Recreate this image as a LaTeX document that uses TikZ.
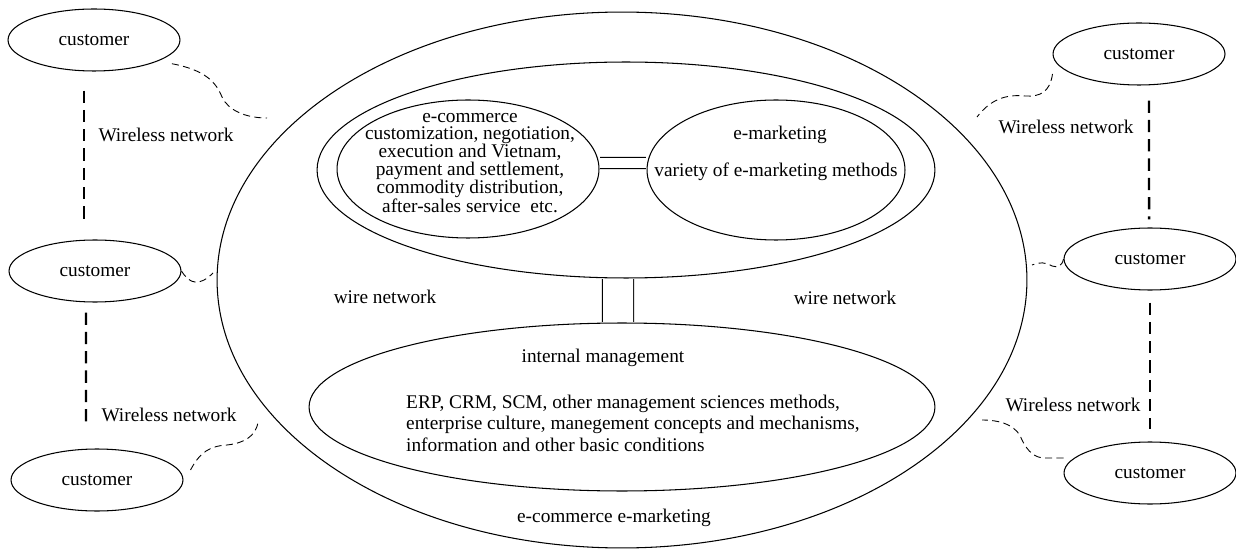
\documentclass[tikz,border=0pt]{standalone}
\usepackage{fontspec}
\setmainfont{Liberation Serif}
\usetikzlibrary{shapes.geometric}

\begin{document}
\begin{tikzpicture}[x=0.02cm, y=-0.02cm, font=\fontsize{11}{12}\selectfont,
            oval/.style={shape=ellipse, draw, inner sep=0pt, line width=0.6pt},
            cust/.style={oval, minimum width=3.44cm, minimum height=1.24cm},
            wless/.style={line width=1.4pt, dash pattern=on 7pt off 4pt},
            wavy/.style={line width=0.5pt, dash pattern=on 4pt off 2.5pt},
            link/.style={draw, line width=0.6pt, double, double distance=#1, shorten <=0.4pt, shorten >=0.4pt}]
        \useasboundingbox (0,0) rectangle (1236,550);

        % the ellipses in the middle
        \node[oval, minimum width=16.2cm, minimum height=10.72cm] (whole) at (622,280) {};
        \node[oval, minimum width=12.36cm, minimum height=4.32cm] (front) at (626,170) {};
        \node[oval, minimum width=5.24cm, minimum height=2.76cm] (ecom) at (468,169) {};
        \node[oval, minimum width=5.16cm, minimum height=2.8cm] (emkt) at (776,170) {};
        \node[oval, minimum width=12.52cm, minimum height=3.36cm] (inner) at (622,407) {};

        \draw[link=0.2cm] ([yshift=0.12cm]ecom.east) -- ([yshift=0.14cm]emkt.west);
        \draw[link=0.6cm] ([xshift=-0.16cm]front.south) -- ([xshift=-0.08cm]inner.north);

        \node[align=center, font=\fontsize{11}{10.1}\selectfont] (ecomtxt) at (470,163)
            {e-commerce\\customization, negotiation,\\execution and Vietnam,\\payment and settlement,\\commodity distribution,\\after-sales service\ \ etc.};
        \node (emkt1) at (780,135) {e-marketing};
        \node (emkt2) at (776,172) {variety of e-marketing methods};
        \node (wire1) at (385,297) {wire network};
        \node (wire2) at (845,298) {wire network};
        \node (intm) at (603,358) {internal management};
        \node[align=left, anchor=west, font=\fontsize{11}{12.2}\selectfont] (erp) at (400,423)
            {ERP, CRM, SCM, other management sciences methods,\\enterprise culture, manegement concepts and mechanisms,\\information and other basic conditions};
        \node (ecem) at (614,518) {e-commerce e-marketing};

        % customers
        \node[cust] (c1) at (94,40) {customer};
        \node[cust] (c2) at (95,271) {customer};
        \node[cust] (c3) at (97,480) {customer};
        \node[cust] (c4) at (1139,54) {customer};
        \node[cust] (c5) at (1150,259) {customer};
        \node[cust] (c6) at (1150,473) {customer};

        \node (wl1) at (166,135) {Wireless network};
        \node (wl2) at (169,415) {Wireless network};
        \node (wl3) at (1066,127) {Wireless network};
        \node (wl4) at (1073,405) {Wireless network};

        \draw[wless, shorten <=0.38cm, shorten >=0.3cm] ([xshift=-0.2cm]c1.south) -- ([xshift=-0.22cm]c2.north);
        \draw[wless, shorten <=0.2cm, shorten >=0.52cm] ([xshift=-0.18cm]c2.south) -- ([xshift=-0.22cm]c3.north);
        \draw[wless, shorten <=0.3cm, shorten >=0.16cm] ([xshift=0.2cm]c4.south) -- ([xshift=-0.02cm]c5.north);
        \draw[wless, shorten <=0.24cm, shorten >=0.24cm] (c5.south) -- (c6.north);

        % wireless links to the wire network
        \coordinate (w1) at (267,118);
        \coordinate (w2) at (213,273);
        \coordinate (w3) at (258,423);
        \coordinate (w4) at (977,117);
        \coordinate (w5) at (1032,265);
        \coordinate (w6) at (982,420);

        \draw[wavy] ([yshift=-0.2cm]c1.-10) .. controls (205,70) and (216,82) .. (222,97) .. controls (228,110) and (245,118) .. (w1);
        \draw[wavy] (c2.east) .. controls (190,285) and (200,286) .. (w2);
        \draw[wavy] ([shift={(0.14cm,0.2cm)}]c3.east) .. controls (200,452) and (210,446) .. (227,445) .. controls (245,443) and (255,436) .. (w3);
        \draw[wavy] ([yshift=-0.4cm]c4.west) .. controls (1050,92) and (1040,97) .. (1025,96) .. controls (1005,94) and (990,100) .. (w4);
        \draw[wavy] (c5.west) .. controls (1062,266) and (1058,268) .. (1052,266) .. controls (1045,262) and (1040,262) .. (w5);
        \draw[wavy] ([yshift=0.3cm]c6.west) -- (1045,458) .. controls (1035,458) and (1028,452) .. (1022,440) .. controls (1018,428) and (1005,420) .. (w6);
    \end{tikzpicture}
\end{document}
